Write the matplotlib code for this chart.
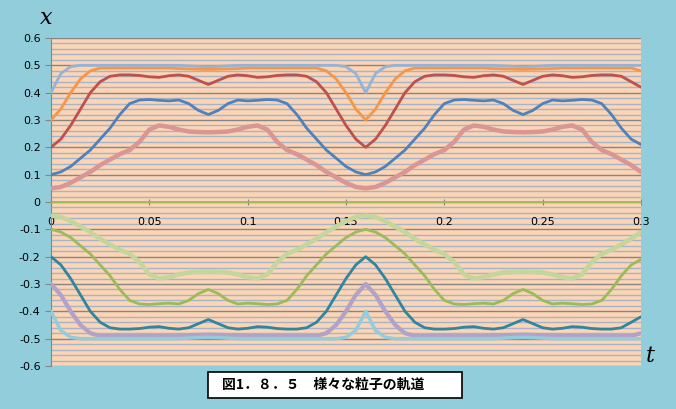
import matplotlib
matplotlib.use("Agg")
import matplotlib.pyplot as plt
from matplotlib.patches import Rectangle

t = [round(i * 0.005, 3) for i in range(61)]

x_p04 = [0.40,0.47,0.495,0.5,0.5,0.5,0.5,0.5,0.5,0.5,0.5,0.5,0.5,0.5,0.498,0.496,0.495,
         0.496,0.498,0.5,0.5,0.5,0.5,0.5,0.5,0.5,0.5,0.5,0.5,0.5,0.495,0.47,0.40,
         0.47,0.495,0.5,0.5,0.5,0.5,0.5,0.5,0.5,0.5,0.5,0.5,0.5,0.498,0.496,0.495,
         0.496,0.498,0.5,0.5,0.5,0.5,0.5,0.5,0.5,0.5,0.5,0.5]
x_p03 = [0.30,0.34,0.40,0.45,0.48,0.49,0.49,0.49,0.49,0.49,0.49,0.49,0.49,0.488,0.487,0.486,0.485,
         0.486,0.487,0.488,0.49,0.49,0.49,0.49,0.49,0.49,0.49,0.49,0.48,0.45,0.40,0.34,0.30,
         0.34,0.40,0.45,0.48,0.49,0.49,0.49,0.49,0.49,0.49,0.49,0.49,0.488,0.487,0.486,0.485,
         0.486,0.487,0.488,0.49,0.49,0.49,0.49,0.49,0.49,0.49,0.49,0.48]
x_p02 = [0.20,0.23,0.28,0.34,0.40,0.44,0.46,0.465,0.465,0.463,0.458,0.456,0.462,0.465,0.46,0.445,0.43,
         0.445,0.46,0.465,0.462,0.456,0.458,0.463,0.465,0.465,0.46,0.44,0.40,0.34,0.28,0.23,0.20,
         0.23,0.28,0.34,0.40,0.44,0.46,0.465,0.465,0.463,0.458,0.456,0.462,0.465,0.46,0.445,0.43,
         0.445,0.46,0.465,0.462,0.456,0.458,0.463,0.465,0.465,0.46,0.44,0.42]
x_p01 = [0.10,0.11,0.13,0.16,0.19,0.23,0.27,0.32,0.36,0.373,0.375,0.372,0.37,0.373,0.36,0.335,0.32,
         0.335,0.36,0.373,0.37,0.372,0.375,0.373,0.36,0.32,0.27,0.23,0.19,0.16,0.13,0.11,0.10,
         0.11,0.13,0.16,0.19,0.23,0.27,0.32,0.36,0.373,0.375,0.372,0.37,0.373,0.36,0.335,0.32,
         0.335,0.36,0.373,0.37,0.372,0.375,0.373,0.36,0.32,0.27,0.23,0.21]
x_p005 = [0.05,0.055,0.07,0.09,0.11,0.135,0.155,0.175,0.19,0.22,0.265,0.28,0.275,0.265,0.258,0.256,0.255,
          0.256,0.258,0.265,0.275,0.28,0.265,0.22,0.19,0.175,0.155,0.135,0.11,0.09,0.07,0.055,0.05,
          0.055,0.07,0.09,0.11,0.135,0.155,0.175,0.19,0.22,0.265,0.28,0.275,0.265,0.258,0.256,0.255,
          0.256,0.258,0.265,0.275,0.28,0.265,0.22,0.19,0.175,0.155,0.135,0.11]
x_m04 = [-0.40,-0.47,-0.495,-0.5,-0.5,-0.5,-0.5,-0.5,-0.5,-0.5,-0.5,-0.5,-0.5,-0.5,-0.498,-0.496,-0.495,
         -0.496,-0.498,-0.5,-0.5,-0.5,-0.5,-0.5,-0.5,-0.5,-0.5,-0.5,-0.5,-0.5,-0.495,-0.47,-0.40,
         -0.47,-0.495,-0.5,-0.5,-0.5,-0.5,-0.5,-0.5,-0.5,-0.5,-0.5,-0.5,-0.5,-0.498,-0.496,-0.495,
         -0.496,-0.498,-0.5,-0.5,-0.5,-0.5,-0.5,-0.5,-0.5,-0.5,-0.5,-0.5]
x_m03 = [-0.30,-0.34,-0.40,-0.45,-0.48,-0.49,-0.49,-0.49,-0.49,-0.49,-0.49,-0.49,-0.49,-0.488,-0.487,-0.486,-0.485,
         -0.486,-0.487,-0.488,-0.49,-0.49,-0.49,-0.49,-0.49,-0.49,-0.49,-0.49,-0.48,-0.45,-0.40,-0.34,-0.30,
         -0.34,-0.40,-0.45,-0.48,-0.49,-0.49,-0.49,-0.49,-0.49,-0.49,-0.49,-0.49,-0.488,-0.487,-0.486,-0.485,
         -0.486,-0.487,-0.488,-0.49,-0.49,-0.49,-0.49,-0.49,-0.49,-0.49,-0.49,-0.48]
x_m02 = [-0.20,-0.23,-0.28,-0.34,-0.40,-0.44,-0.46,-0.465,-0.465,-0.463,-0.458,-0.456,-0.462,-0.465,-0.46,-0.445,-0.43,
         -0.445,-0.46,-0.465,-0.462,-0.456,-0.458,-0.463,-0.465,-0.465,-0.46,-0.44,-0.40,-0.34,-0.28,-0.23,-0.20,
         -0.23,-0.28,-0.34,-0.40,-0.44,-0.46,-0.465,-0.465,-0.463,-0.458,-0.456,-0.462,-0.465,-0.46,-0.445,-0.43,
         -0.445,-0.46,-0.465,-0.462,-0.456,-0.458,-0.463,-0.465,-0.465,-0.46,-0.44,-0.42]
x_m01 = [-0.10,-0.11,-0.13,-0.16,-0.19,-0.23,-0.27,-0.32,-0.36,-0.373,-0.375,-0.372,-0.37,-0.373,-0.36,-0.335,-0.32,
         -0.335,-0.36,-0.373,-0.37,-0.372,-0.375,-0.373,-0.36,-0.32,-0.27,-0.23,-0.19,-0.16,-0.13,-0.11,-0.10,
         -0.11,-0.13,-0.16,-0.19,-0.23,-0.27,-0.32,-0.36,-0.373,-0.375,-0.372,-0.37,-0.373,-0.36,-0.335,-0.32,
         -0.335,-0.36,-0.373,-0.37,-0.372,-0.375,-0.373,-0.36,-0.32,-0.27,-0.23,-0.21]
x_m005 = [-0.05,-0.055,-0.07,-0.09,-0.11,-0.135,-0.155,-0.175,-0.19,-0.22,-0.265,-0.28,-0.275,-0.265,-0.258,-0.256,-0.255,
          -0.256,-0.258,-0.265,-0.275,-0.28,-0.265,-0.22,-0.19,-0.175,-0.155,-0.135,-0.11,-0.09,-0.07,-0.055,-0.05,
          -0.055,-0.07,-0.09,-0.11,-0.135,-0.155,-0.175,-0.19,-0.22,-0.265,-0.28,-0.275,-0.265,-0.258,-0.256,-0.255,
          -0.256,-0.258,-0.265,-0.275,-0.28,-0.265,-0.22,-0.19,-0.175,-0.155,-0.135,-0.11]

xticks = [0, 0.05, 0.1, 0.15, 0.2, 0.25, 0.3]
xtick_labels = ["0", "0.05", "0.1", "0.15", "0.2", "0.25", "0.3"]
yticks = [-0.6, -0.5, -0.4, -0.3, -0.2, -0.1, 0, 0.1, 0.2, 0.3, 0.4, 0.5, 0.6]
caption = "図1．８．５　様々な粒子の軌道"

series = [
    (x_p005, "#D99694", 3.2),
    (x_p01, "#4F81BD", 2.0),
    (x_p02, "#C0504D", 2.0),
    (x_p03, "#F79646", 2.0),
    (x_p04, "#95B3D7", 2.0),
    (x_m005, "#C3D69B", 3.2),
    (x_m01, "#9BBB59", 2.0),
    (x_m02, "#31859C", 2.0),
    (x_m03, "#B3A2C7", 3.0),
    (x_m04, "#93CDDD", 2.5),
]

fig = plt.figure(figsize=(6.76, 4.09), dpi=100)
fig.patch.set_facecolor("#92CDDC")
ax = fig.add_axes([51/676, 1-366/409, 590/676, 328/409])
ax.set_facecolor("#FBD5B5")
ax.set_xlim(0, 0.3)
ax.set_ylim(-0.6, 0.6)

for k in range(-30, 31):
    v = k * 0.02
    if k % 5 == 0:
        ax.axhline(v, color="#868686", lw=1.0, zorder=1)
    else:
        ax.axhline(v, color="#A6B4C8", lw=1.0, zorder=1)

for ys, c, w in series:
    ax.plot(t, ys, color=c, lw=w, zorder=3, solid_capstyle="round")

ax.axhline(0, color="#9BBB59", lw=1.2, zorder=2)
for spine in ["top", "right", "bottom"]:
    ax.spines[spine].set_visible(False)
ax.spines["left"].set_color("#868686")
ax.spines["bottom"].set_position(("data", 0))
ax.spines["bottom"].set_visible(True)
ax.spines["bottom"].set_color("#9BBB59")
ax.set_xticks(xticks)
ax.set_xticklabels(xtick_labels)
ax.set_yticks(yticks)
ax.set_yticklabels([f"{v:g}" for v in yticks])
ax.tick_params(axis="x", direction="inout", length=5, color="#868686", labelsize=8, pad=8)
ax.tick_params(axis="y", direction="out", length=4, color="#868686", labelsize=8)

fig.text(40/676, 1-18/409, "x", fontsize=16, style="italic", family="DejaVu Serif", va="center")
fig.text(646/676, 1-356/409, "t", fontsize=16, style="italic", family="DejaVu Serif", va="center")

fig.patches.append(Rectangle((208/676, 1-398/409), 254/676, 26/409, transform=fig.transFigure,
                             facecolor="white", edgecolor="black", lw=1.2))
fig.text(222/676, 1-385/409, caption, fontsize=10, fontweight="bold",
         family="Noto Sans CJK JP", va="center")

fig.savefig("out.png", dpi=100, facecolor=fig.get_facecolor())
